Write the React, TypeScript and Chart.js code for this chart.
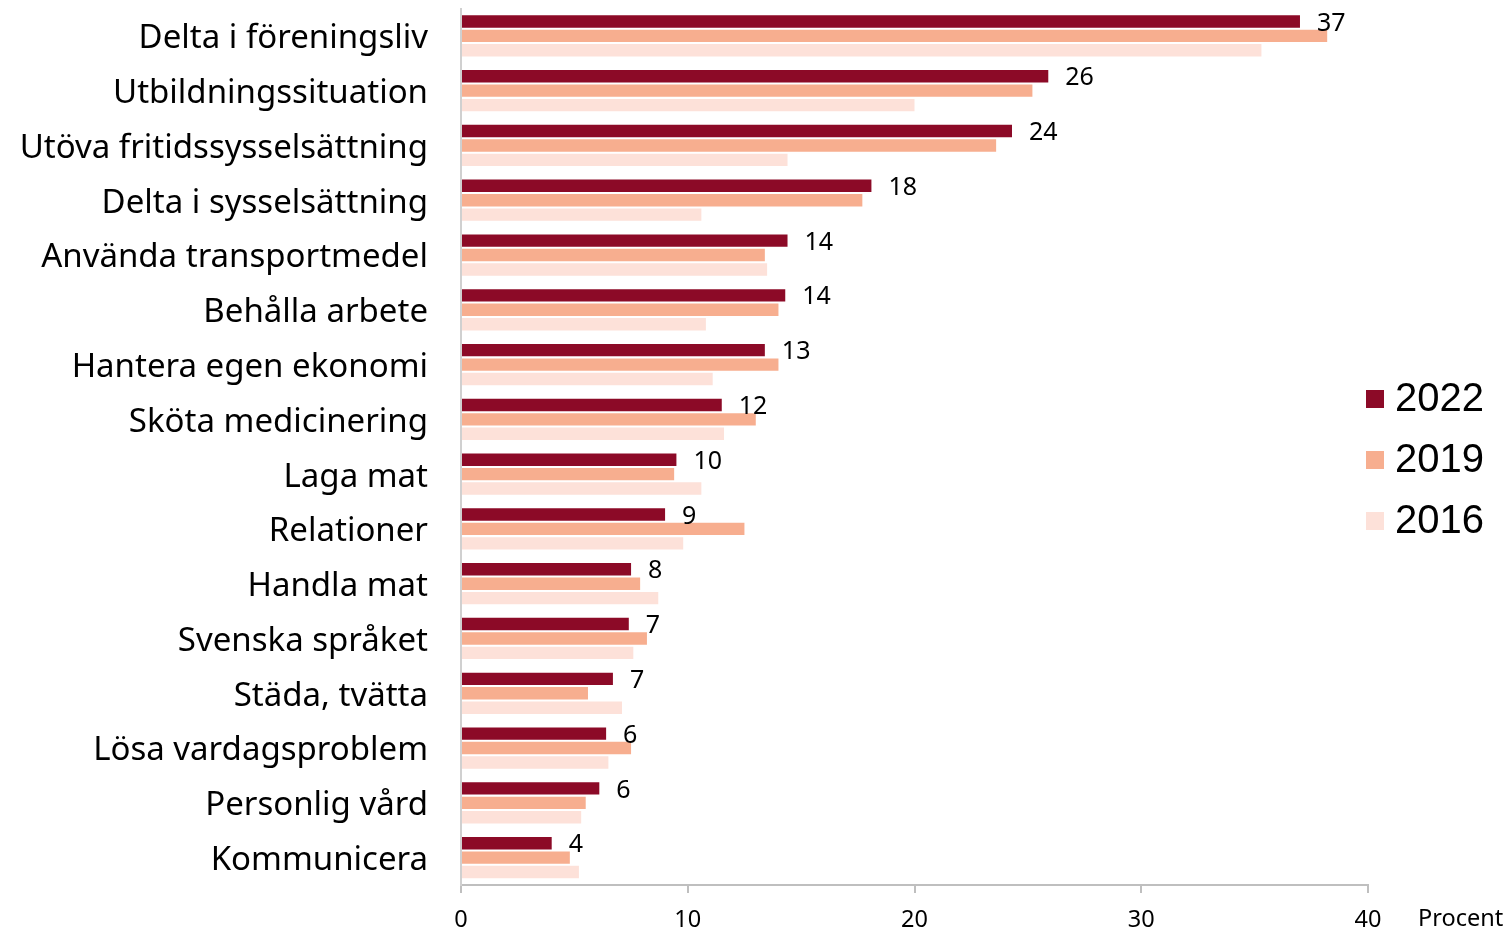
import React, { useEffect, useRef } from "react";
import { Chart, registerables } from "chart.js";

Chart.register(...registerables);

const categories = [
  "Delta i föreningsliv",
  "Utbildningssituation",
  "Utöva fritidssysselsättning",
  "Delta i sysselsättning",
  "Använda transportmedel",
  "Behålla arbete",
  "Hantera egen ekonomi",
  "Sköta medicinering",
  "Laga mat",
  "Relationer",
  "Handla mat",
  "Svenska språket",
  "Städa, tvätta",
  "Lösa vardagsproblem",
  "Personlig vård",
  "Kommunicera",
];

const values2022 = [37.0, 25.9, 24.3, 18.1, 14.4, 14.3, 13.4, 11.5, 9.5, 9.0, 7.5, 7.4, 6.7, 6.4, 6.1, 4.0];
const values2019 = [38.2, 25.2, 23.6, 17.7, 13.4, 14.0, 14.0, 13.0, 9.4, 12.5, 7.9, 8.2, 5.6, 7.5, 5.5, 4.8];
const values2016 = [35.3, 20.0, 14.4, 10.6, 13.5, 10.8, 11.1, 11.6, 10.6, 9.8, 8.7, 7.6, 7.1, 6.5, 5.3, 5.2];

const seriesLabels = ["2022", "2019", "2016"];
const seriesColors = ["#8C0A27", "#F7AE8F", "#FDE1D9"];
const xTicks = [0, 10, 20, 30, 40];
const axisTitle = "Procent";

const catFont = "'Noto Sans', sans-serif";
const numFont = "'Liberation Sans', Arial, sans-serif";

const overlayPlugin = {
  id: "overlay",
  afterDatasetsDraw(chart: any) {
    const ctx = chart.ctx;
    const meta = chart.getDatasetMeta(0);
    ctx.save();
    ctx.fillStyle = "#000";
    ctx.font = `25px ${catFont}`;
    ctx.textAlign = "left";
    ctx.textBaseline = "middle";
    meta.data.forEach((bar: any, i: number) => {
      ctx.fillText(String(Math.round(values2022[i])), bar.x + 17, bar.y + 2);
    });
    // legend
    const lx = 1366;
    const ys = [399, 460, 521];
    ctx.font = `40px ${numFont}`;
    seriesLabels.forEach((lab, i) => {
      ctx.fillStyle = seriesColors[i];
      ctx.fillRect(lx, ys[i] - 9, 18, 18);
      ctx.fillStyle = "#000";
      ctx.fillText(lab, 1395, ys[i] + 1);
    });
    // axis title
    ctx.font = `23.5px ${catFont}`;
    ctx.fillText(axisTitle, 1418, 919);
    ctx.restore();
  },
};

export default function App() {
  const ref = useRef<HTMLCanvasElement>(null);
  useEffect(() => {
    if (!ref.current) return;
    const chart = new Chart(ref.current, {
      type: "bar",
      data: {
        labels: categories,
        datasets: [values2022, values2019, values2016].map((d, i) => ({
          label: seriesLabels[i],
          data: d,
          backgroundColor: seriesColors[i],
          borderWidth: 0,
          barPercentage: 0.86,
          categoryPercentage: 0.79,
        })),
      },
      options: {
        indexAxis: "y",
        animation: false,
        responsive: false,
        maintainAspectRatio: false,
        layout: { padding: { left: 0, right: 142, top: 8.5, bottom: 0 } },
        plugins: { legend: { display: false }, tooltip: { enabled: false } },
        scales: {
          x: {
            min: 0,
            max: 40,
            afterBuildTicks(scale: any) {
              scale.ticks = xTicks.map((v) => ({ value: v }));
            },
            afterFit(scale: any) {
              scale.height = 44;
              scale.paddingLeft = 0;
              scale.paddingRight = 0;
            },
            grid: {
              display: true,
              drawOnChartArea: false,
              drawTicks: true,
              tickLength: 8,
              color: "#BFBFBF",
              lineWidth: 2,
            },
            border: { display: true, color: "#BFBFBF", width: 2 },
            ticks: {
              color: "#000",
              font: { family: catFont, size: 23.5 },
              padding: 13,
              maxRotation: 0,
            },
          },
          y: {
            afterFit(scale: any) {
              scale.width = 461;
              scale.paddingTop = 0;
              scale.paddingBottom = 0;
            },
            grid: { display: false, drawTicks: false },
            border: { display: true, color: "#D0D0D0", width: 2 },
            ticks: {
              color: "#000",
              font: { family: catFont, size: 33 },
              padding: 33,
              labelOffset: 3,
              autoSkip: false,
            },
          },
        },
      },
      plugins: [overlayPlugin],
    });
    return () => chart.destroy();
  }, []);
  return (
    <div style={{ position: "absolute", left: 0, top: 0, width: 1510, height: 929 }}>
      <canvas ref={ref} width={1510} height={929} style={{ width: 1510, height: 929 }} />
    </div>
  );
}
